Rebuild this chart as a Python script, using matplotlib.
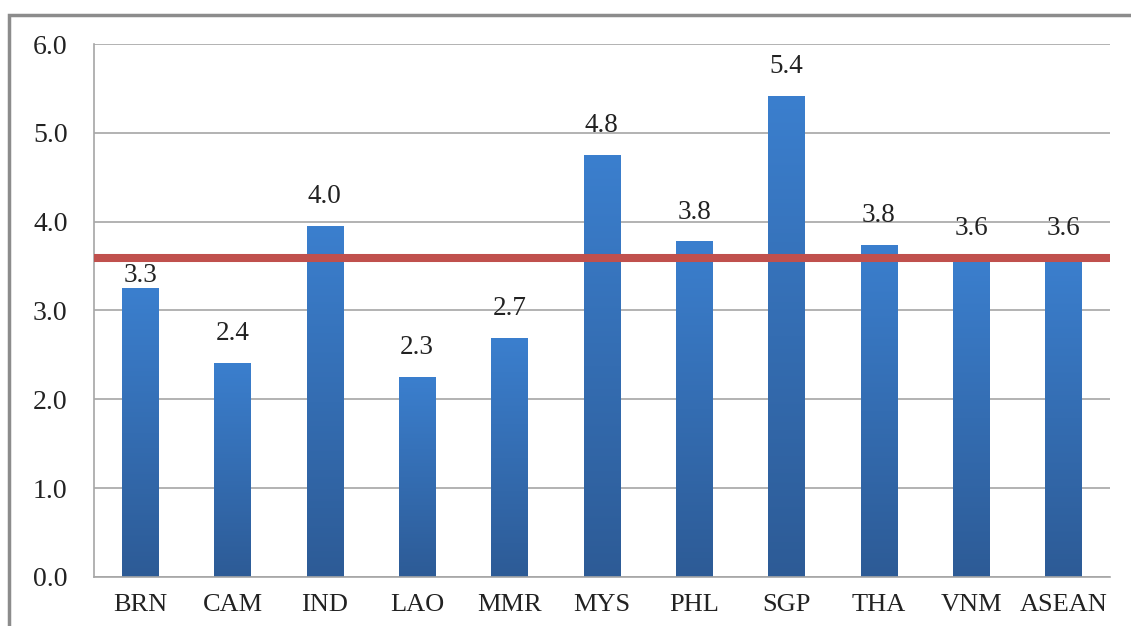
import numpy as np
import matplotlib
matplotlib.use("Agg")
import matplotlib.pyplot as plt
from matplotlib.patches import Rectangle
from matplotlib.colors import LinearSegmentedColormap

countries = ["BRN", "CAM", "IND", "LAO", "MMR", "MYS", "PHL", "SGP", "THA", "VNM", "ASEAN"]
scores = [3.25, 2.41, 3.95, 2.25, 2.69, 4.75, 3.78, 5.42, 3.74, 3.59, 3.59]
score_labels = ["3.3", "2.4", "4.0", "2.3", "2.7", "4.8", "3.8", "5.4", "3.8", "3.6", "3.6"]
asean_avg = 3.59

plt.rcParams['font.family'] = ['Liberation Serif', 'DejaVu Serif']

fig = plt.figure(figsize=(11.31, 6.26), dpi=100)
ax = fig.add_axes([0.0831, 0.0783, 0.898, 0.8514])

x = np.arange(len(countries))
bars = ax.bar(x, scores, width=0.39, color='none', zorder=2)

# vertical gradient inside every bar
grad_cmap = LinearSegmentedColormap.from_list("g", ["#2D5B96", "#3B7FCE"])
grad = np.linspace(0, 1, 256).reshape(-1, 1)
for b in bars:
    x0, y0 = b.get_x(), b.get_y()
    w, h = b.get_width(), b.get_height()
    im = ax.imshow(grad, cmap=grad_cmap, origin='lower', aspect='auto',
                   extent=(x0, x0 + w, y0, y0 + h), zorder=2)
    im.set_clip_path(b)

ax.axhline(asean_avg, color='#C0504D', lw=5.8, zorder=3)

for i, (v, lab) in enumerate(zip(scores, score_labels)):
    off = 0 if countries[i] == "BRN" else 12
    ax.annotate(lab, (x[i], v), xytext=(0, off), textcoords='offset points',
                ha='center', va='bottom', fontsize=19.5, color='#222222', zorder=4)

ax.set_xlim(-0.5, len(countries) - 0.5)
ax.set_ylim(0, 6)
ax.set_yticks(np.arange(0, 6.5, 1.0))
ax.set_yticklabels([f"{t:.1f}" for t in np.arange(0, 6.5, 1.0)])
ax.set_xticks(x)
ax.set_xticklabels(countries)
ax.tick_params(axis='y', length=0, pad=19, labelsize=20, colors='#222222')
ax.tick_params(axis='x', length=0, pad=12, labelsize=19, colors='#222222')

ax.grid(axis='y', color='#A6A6A6', lw=1.2, zorder=0)
ax.set_axisbelow(True)
for s in ['top', 'right']:
    ax.spines[s].set_visible(False)
ax.spines['left'].set_color('#A6A6A6')
ax.spines['bottom'].set_color('#A6A6A6')
ax.spines['left'].set_linewidth(1.2)
ax.spines['bottom'].set_linewidth(1.2)

# outer chart border
fig.patches.append(Rectangle((0.008, -0.1), 1.2, 1.076, transform=fig.transFigure,
                             fill=False, edgecolor='#8C8C8C', lw=2.5))

fig.savefig("out.png", dpi=100)
